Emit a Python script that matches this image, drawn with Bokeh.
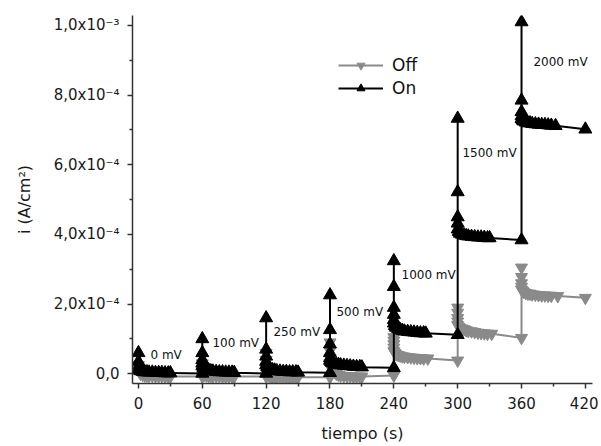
from bokeh.plotting import figure
from bokeh.models import (ColumnDataSource, FixedTicker, CustomJSTickFormatter,
                          Legend, LegendItem, Range1d)
from bokeh.embed import file_html
from bokeh.resources import INLINE
from bokeh.core.properties import value

# ---------------- data (current in units of 1e-4 A/cm^2) ----------------
SCALE = 1e-4

on_t_0 = [0, 0, 0, 0, 1, 2, 4, 6, 8, 10, 13, 16, 19, 22, 25, 28, 30, 60]
on_i_0 = [0.6, 0.35, 0.2, 0.12, 0.1, 0.08, 0.06, 0.05, 0.05, 0.04, 0.04, 0.03, 0.03, 0.03, 0.02, 0.02, 0.02, 0.01]
on_t_100 = [60, 60, 60, 60, 60, 61, 62, 64, 66, 68, 70, 73, 76, 79, 82, 85, 88, 90, 120]
on_i_100 = [1.0, 0.6, 0.4, 0.3, 0.22, 0.17, 0.14, 0.12, 0.1, 0.08, 0.07, 0.06, 0.05, 0.05, 0.04, 0.04, 0.04, 0.03, 0.01]
on_t_250 = [120, 120, 120, 120, 120, 121, 122, 124, 126, 128, 130, 133, 136, 139, 142, 145, 148, 150, 180]
on_i_250 = [1.6, 0.7, 0.5, 0.35, 0.25, 0.2, 0.16, 0.13, 0.11, 0.1, 0.08, 0.07, 0.06, 0.06, 0.05, 0.05, 0.05, 0.04, 0.03]
on_t_500 = [180, 180, 180, 180, 180, 180, 181, 182, 184, 186, 188, 190, 193, 196, 199, 202, 205, 208, 210, 240]
on_i_500 = [2.26, 1.26, 0.85, 0.6, 0.45, 0.38, 0.34, 0.31, 0.29, 0.27, 0.26, 0.25, 0.24, 0.23, 0.22, 0.21, 0.2, 0.2, 0.19, 0.17]
on_t_1000 = [240, 240, 240, 240, 240, 240, 241, 242, 244, 246, 248, 250, 253, 256, 259, 262, 265, 268, 270, 300]
on_i_1000 = [3.24, 2.5, 1.9, 1.7, 1.55, 1.45, 1.38, 1.33, 1.29, 1.26, 1.24, 1.22, 1.21, 1.2, 1.19, 1.18, 1.17, 1.17, 1.16, 1.12]
on_t_1500 = [300, 300, 300, 300, 300, 301, 302, 304, 306, 308, 310, 313, 316, 319, 322, 325, 328, 330, 360]
on_i_1500 = [7.33, 5.22, 4.5, 4.32, 4.15, 4.08, 4.03, 4.0, 3.98, 3.96, 3.95, 3.94, 3.93, 3.92, 3.92, 3.91, 3.9, 3.9, 3.84]
on_t_2000 = [360, 360, 360, 360, 360, 361, 362, 364, 366, 368, 370, 373, 376, 379, 382, 385, 388, 392, 420]
on_i_2000 = [10.1, 7.85, 7.52, 7.4, 7.32, 7.28, 7.25, 7.22, 7.2, 7.2, 7.18, 7.17, 7.16, 7.15, 7.15, 7.14, 7.13, 7.12, 7.02]

off_t_0 = [0, 0, 1, 2, 4, 6, 8, 10, 13, 16, 19, 22, 25, 28, 30, 60]
off_i_0 = [0.25, 0.1, 0.05, 0.0, -0.03, -0.05, -0.05, -0.06, -0.06, -0.07, -0.07, -0.07, -0.08, -0.08, -0.08, -0.08]
off_t_100 = [60, 60, 60, 61, 62, 64, 66, 68, 70, 73, 76, 79, 82, 85, 88, 90, 120]
off_i_100 = [0.3, 0.15, 0.05, 0.0, -0.03, -0.05, -0.06, -0.06, -0.07, -0.07, -0.07, -0.08, -0.08, -0.08, -0.08, -0.08, -0.08]
off_t_250 = [120, 120, 120, 120, 121, 122, 124, 126, 128, 130, 133, 136, 139, 142, 145, 148, 150, 180]
off_i_250 = [0.6, 0.4, 0.2, 0.1, 0.0, -0.05, -0.08, -0.09, -0.09, -0.1, -0.1, -0.1, -0.1, -0.1, -0.1, -0.1, -0.1, -0.1]
off_t_500 = [180, 180, 180, 180, 181, 182, 184, 186, 188, 190, 193, 196, 199, 202, 205, 208, 210, 240]
off_i_500 = [0.9, 0.65, 0.45, 0.3, 0.2, 0.1, 0.05, 0.0, -0.03, -0.05, -0.06, -0.07, -0.07, -0.08, -0.08, -0.08, -0.08, -0.05]
off_t_1000 = [240, 240, 240, 240, 240, 241, 242, 244, 246, 248, 250, 253, 256, 259, 262, 265, 268, 272, 300]
off_i_1000 = [1.05, 0.95, 0.85, 0.75, 0.65, 0.6, 0.56, 0.54, 0.52, 0.5, 0.49, 0.48, 0.47, 0.46, 0.45, 0.45, 0.44, 0.44, 0.38]
off_t_1500 = [300, 300, 300, 300, 300, 301, 302, 304, 306, 308, 310, 313, 316, 319, 322, 325, 328, 332, 360]
off_i_1500 = [1.9, 1.75, 1.6, 1.5, 1.4, 1.35, 1.32, 1.3, 1.28, 1.25, 1.23, 1.22, 1.2, 1.18, 1.17, 1.16, 1.15, 1.15, 1.03]
off_t_2000 = [360, 360, 360, 360, 360, 361, 362, 364, 366, 368, 370, 373, 376, 379, 382, 385, 388, 394, 420]
off_i_2000 = [3.05, 2.78, 2.6, 2.5, 2.42, 2.38, 2.35, 2.32, 2.3, 2.3, 2.28, 2.27, 2.26, 2.25, 2.25, 2.24, 2.24, 2.23, 2.18]

STEP_LABELS = ["0 mV", "100 mV", "250 mV", "500 mV", "1000 mV", "1500 mV", "2000 mV"]

X_TICKS = [0, 60, 120, 180, 240, 300, 360, 420]
X_MINOR = [30, 90, 150, 210, 270, 330, 390]
Y_TICKS = [0.0, 2e-4, 4e-4, 6e-4, 8e-4, 1e-3]
Y_MINOR = [1e-4, 3e-4, 5e-4, 7e-4, 9e-4]
Y_TICK_LABELS = ["0,0", "2,0x10\u207b\u2074", "4,0x10\u207b\u2074", "6,0x10\u207b\u2074",
                 "8,0x10\u207b\u2074", "1,0x10\u207b\u00b3"]

# ---------------- layout (positions of the step annotations) ----------------
label_x = [11.3, 69.5, 126.9, 186.1, 247.2, 304.5, 371.2]
label_y = [0.53e-4, 0.87e-4, 1.21e-4, 1.76e-4, 2.83e-4, 6.33e-4, 8.94e-4]

on_t = on_t_0 + on_t_100 + on_t_250 + on_t_500 + on_t_1000 + on_t_1500 + on_t_2000
on_i = [v * SCALE for v in on_i_0 + on_i_100 + on_i_250 + on_i_500 + on_i_1000 + on_i_1500 + on_i_2000]
off_t = off_t_0 + off_t_100 + off_t_250 + off_t_500 + off_t_1000 + off_t_1500 + off_t_2000
off_i = [v * SCALE for v in off_i_0 + off_i_100 + off_i_250 + off_i_500 + off_i_1000 + off_i_1500 + off_i_2000]

on_src = ColumnDataSource(dict(t=on_t, i=on_i))
off_src = ColumnDataSource(dict(t=off_t, i=off_i))
lab_src = ColumnDataSource(dict(x=label_x, y=label_y, text=STEP_LABELS))

FONT = "DejaVu Sans"
BLACK = "#000000"
GRAY = "#8a8a8a"
AXIS = "#333333"

p = figure(frame_width=460, frame_height=368,
           min_border_left=132, min_border_right=6, min_border_top=15, min_border_bottom=56,
           x_range=Range1d(-5.6, 426.7), y_range=Range1d(-2.8e-5, 1.0287e-3),
           output_backend="svg", toolbar_location=None, outline_line_color=None,
           background_fill_color="white", border_fill_color="white")
p.xgrid.visible = False
p.ygrid.visible = False

off_line = p.line("t", "i", source=off_src, line_color=GRAY, line_width=2)
off_pts = p.scatter("t", "i", source=off_src, marker="inverted_triangle", size=12,
                    fill_color=GRAY, line_color=GRAY)
on_line = p.line("t", "i", source=on_src, line_color=BLACK, line_width=2)
on_pts = p.scatter("t", "i", source=on_src, marker="triangle", size=13,
                   fill_color=BLACK, line_color=BLACK)

p.text("x", "y", text="text", source=lab_src, text_font=value(FONT),
       text_font_size=value("12px"), text_align="left", text_baseline="middle",
       text_color="#111111")

# axes
p.xaxis.ticker = FixedTicker(ticks=X_TICKS, minor_ticks=X_MINOR)
p.yaxis.ticker = FixedTicker(ticks=Y_TICKS, minor_ticks=Y_MINOR)
p.yaxis.formatter = CustomJSTickFormatter(
    args=dict(vals=Y_TICKS, labs=Y_TICK_LABELS),
    code="""
for (let k = 0; k < vals.length; k++) {
  if (Math.abs(tick - vals[k]) < 1e-9) { return labs[k]; }
}
return '';
""")
p.xaxis.axis_label = "tiempo (s)"
p.yaxis.axis_label = "i (A/cm\u00b2)"
for ax in (p.xaxis, p.yaxis):
    ax.axis_line_color = AXIS
    ax.axis_line_width = 1.5
    ax.major_tick_line_color = AXIS
    ax.minor_tick_line_color = AXIS
    ax.major_tick_line_width = 1.5
    ax.minor_tick_line_width = 1.5
    ax.major_tick_in = 0
    ax.major_tick_out = 5
    ax.minor_tick_in = 0
    ax.minor_tick_out = 3
    ax.major_label_text_font = FONT
    ax.major_label_text_font_size = "15px"
    ax.major_label_text_color = "#1a1a1a"
    ax.major_label_standoff = 8
    ax.axis_label_text_font = FONT
    ax.axis_label_text_font_size = "16px"
    ax.axis_label_text_font_style = "normal"
    ax.axis_label_text_color = "#1a1a1a"
p.yaxis.axis_label_standoff = 17
p.xaxis.axis_label_standoff = 12

legend = Legend(items=[LegendItem(label="Off", renderers=[off_line, off_pts]),
                       LegendItem(label="On", renderers=[on_line, on_pts])],
                location=(206, 285), orientation="vertical",
                glyph_width=45, glyph_height=20, spacing=3, label_standoff=9,
                padding=0, margin=0, border_line_color=None, background_fill_alpha=0,
                label_text_font=FONT, label_text_font_size="17px",
                label_text_color="#111111")
p.add_layout(legend)

open("out.html", "w").write(file_html(p, INLINE))
